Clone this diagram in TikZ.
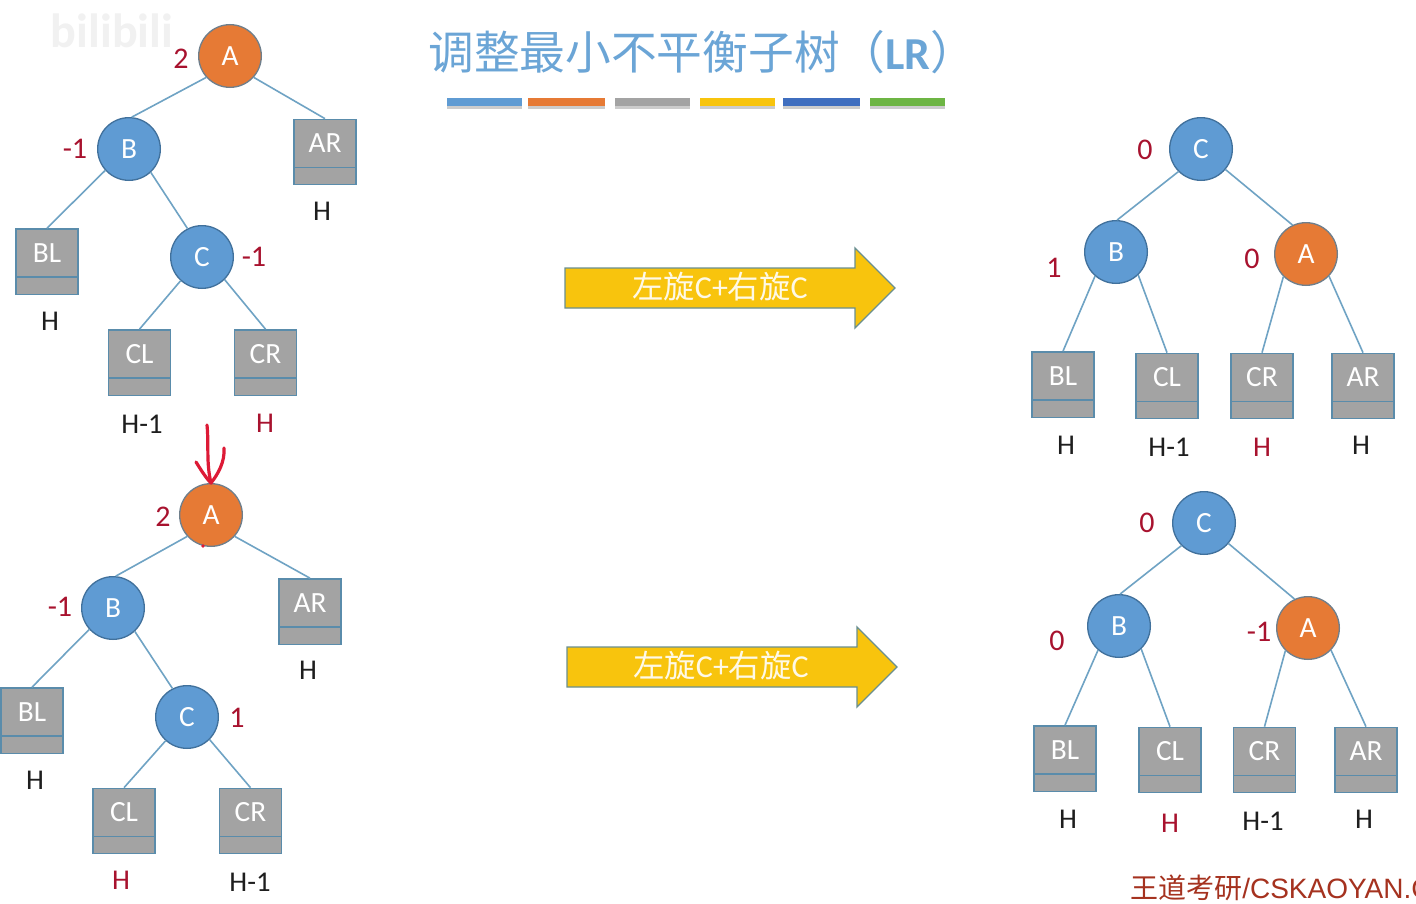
\documentclass[tikz,border=0pt]{standalone}
\usepackage{fontspec}
\setmainfont{Carlito}
\newfontfamily\cjk{Noto Sans CJK SC}
\newfontfamily\arialish{Liberation Sans}
\definecolor{nblue}{HTML}{5F9BD3}
\definecolor{nblueb}{HTML}{41719C}
\definecolor{norange}{HTML}{E67A35}
\definecolor{norangeb}{HTML}{6F7F8C}
\definecolor{bgray}{HTML}{A3A3A3}
\definecolor{bgrayb}{HTML}{5A8CAB}
\definecolor{edgec}{HTML}{6FA3C4}
\definecolor{lred}{HTML}{A8122E}
\definecolor{ltext}{HTML}{1E1E1E}
\definecolor{ayellow}{HTML}{F8C40D}
\definecolor{ayellowb}{HTML}{6A8F90}
\definecolor{ttl}{HTML}{6BA5D6}
\definecolor{penred}{HTML}{DD1A36}
\definecolor{wm}{HTML}{F1F1F1}
\definecolor{foot}{HTML}{A5321F}
\definecolor{bardark}{HTML}{3F6EBF}
\definecolor{bargreen}{HTML}{6DB544}
\tikzset{
  cnode/.style={circle,minimum size=47pt,inner sep=0pt,line width=1pt,text=white,font=\fontsize{22}{22}\selectfont},
  bluenode/.style={cnode,fill=nblue,draw=nblueb},
  orangenode/.style={cnode,fill=norange,draw=norangeb},
  treebox/.style={rectangle,fill=bgray,draw=bgrayb,line width=1pt,inner sep=0pt,minimum width=46.5pt,
    text=white,font=\fontsize{22}{22}\selectfont,text height=25pt,text depth=24pt,
    path picture={\draw[bgrayb,line width=1pt] ([yshift=12.8pt]path picture bounding box.south west) -- ([yshift=12.8pt]path picture bounding box.south east);}},
  bf/.style={inner sep=0pt,text=lred,font=\fontsize{22.5}{22}\selectfont},
  hblack/.style={inner sep=0pt,text=ltext,font=\fontsize{21.5}{21}\selectfont},
  hred/.style={hblack,text=lred},
  edge/.style={edgec,line width=1.2pt},
  arrowshape/.style={fill=ayellow,draw=ayellowb,line width=1pt},
  arrowtext/.style={inner sep=0pt,text=white!90!ayellow,font=\fontsize{24}{24}\selectfont},
  pen/.style={penred,line width=2.4pt,line cap=round,line join=round},
}
\newcommand{\arrowbody}[2]{%
  \draw[arrowshape] (#1,#2-20) -- (#1+290,#2-20) -- (#1+290,#2-40) -- (#1+330,#2) -- (#1+290,#2+40) -- (#1+290,#2+20) -- (#1,#2+20) -- cycle;}
\newcommand{\colourbar}[4]{%
  \fill[black!50,opacity=.4] (#1,#2+3) rectangle (#3,#2+10);
  \fill[#4] (#1,#2-1) rectangle (#3,#2+7);}
\begin{document}
\begin{tikzpicture}[x=0.75pt,y=-0.75pt]
\useasboundingbox (0,0) rectangle (1416,903);
\fill[white] (0,0) rectangle (1416,903);
\node[inner sep=0pt,text=wm,font=\fontsize{36}{36}\selectfont\bfseries] (wmark) at (112,31) {bilibili};

% title
\node[inner sep=0pt,anchor=west,text=ttl,font=\cjk\fontsize{34.3}{35}\selectfont] (title) at (428,52) {调整最小不平衡子树（{\rmfamily\bfseries LR}）};
\colourbar{447}{99}{522}{nblue}
\colourbar{528}{99}{605}{norange}
\colourbar{615}{99}{690}{bgray}
\colourbar{700}{99}{775}{ayellow}
\colourbar{783}{99}{860}{bardark}
\colourbar{870}{99}{945}{bargreen}

% top-left tree
\node[orangenode] (a1) at (230,56) {A};
\node[bluenode] (b1) at (129,149) {B};
\node[bluenode] (c1) at (202,257) {C};
\node[treebox] (ar1) at (325,152) {AR};
\node[treebox] (bl1) at (47,261.5) {BL};
\node[treebox] (cl1) at (139.5,362.5) {CL};
\node[treebox] (cr1) at (265.5,362.5) {CR};
\draw[edge] (a1.222) -- (b1.85);
\draw[edge] (a1.-42) -- (ar1.north);
\draw[edge] (b1.222) -- (bl1.north);
\draw[edge] (b1.-47) -- (c1.117);
\draw[edge] (c1.228) -- (cl1.north);
\draw[edge] (c1.-45) -- (cr1.north);
\node[bf] (f1a) at (181,59) {2};
\node[bf] (f1b) at (75,149) {-1};
\node[bf] (f1c) at (254,257) {-1};
\node[hblack] (h1ar) at (322,211) {H};
\node[hblack] (h1bl) at (50,321) {H};
\node[hblack] (h1cl) at (142,424) {H-1};
\node[hred] (h1cr) at (265,423) {H};

% bottom-left tree
\node[orangenode] (a2) at (211,515) {A};
\node[bluenode] (b2) at (113,608) {B};
\node[bluenode] (c2) at (187,717) {C};
\node[treebox] (ar2) at (310,611.5) {AR};
\node[treebox] (bl2) at (32,720.5) {BL};
\node[treebox] (cl2) at (124,821) {CL};
\node[treebox] (cr2) at (250.5,821) {CR};
\draw[edge] (a2.222) -- (b2.85);
\draw[edge] (a2.-42) -- (ar2.north);
\draw[edge] (b2.222) -- (bl2.north);
\draw[edge] (b2.-47) -- (c2.117);
\draw[edge] (c2.228) -- (cl2.north);
\draw[edge] (c2.-45) -- (cr2.north);
\node[bf] (f2a) at (163,517) {2};
\node[bf] (f2b) at (60,607) {-1};
\node[bf] (f2c) at (237,718) {1};
\node[hblack] (h2ar) at (308,670) {H};
\node[hblack] (h2bl) at (35,780) {H};
\node[hred] (h2cl) at (121,880) {H};
\node[hblack] (h2cr) at (250,882) {H-1};

% pen mark
\coordinate (pa) at (207,425);
\coordinate (pb) at (211,483);
\draw[pen] (pa) .. controls (209,445) and (206,462) .. (pb);
\draw[pen] (196,462) .. controls (201,470) and (206,478) .. (pb);
\draw[pen] (pb) .. controls (218,474) and (225,462) .. (224,448);
\fill[penred] (203,546) circle (1.8);

% arrows
\arrowbody{565}{288}
\node[arrowtext] (t1) at (720,287) {{\cjk\fontsize{23.5}{24}\selectfont 左旋}C+{\cjk\fontsize{23.5}{24}\selectfont 右旋}C};
\arrowbody{567}{667}
\node[arrowtext] (t2) at (721,666) {{\cjk\fontsize{23.5}{24}\selectfont 左旋}C+{\cjk\fontsize{23.5}{24}\selectfont 右旋}C};

% top-right tree
\node[bluenode] (c3) at (1201,149) {C};
\node[bluenode] (b3) at (1116,252) {B};
\node[orangenode] (a3) at (1306,254) {A};
\node[treebox] (bl3) at (1063,384.5) {BL};
\node[treebox] (cl3) at (1167,386) {CL};
\node[treebox] (cr3) at (1262,386) {CR};
\node[treebox] (ar3) at (1363,386) {AR};
\draw[edge] (c3.225) -- (b3.88);
\draw[edge] (c3.-40) -- (a3.115);
\draw[edge] (b3.229) -- (bl3.north);
\draw[edge] (b3.-46) -- (cl3.north);
\draw[edge] (a3.225) -- (cr3.north);
\draw[edge] (a3.-44) -- (ar3.north);
\node[bf] (f3c) at (1145,150) {0};
\node[bf] (f3b) at (1054,268) {1};
\node[bf] (f3a) at (1252,259) {0};
\node[hblack] (h3bl) at (1066,445) {H};
\node[hblack] (h3cl) at (1169,447) {H-1};
\node[hred] (h3cr) at (1262,447) {H};
\node[hblack] (h3ar) at (1361,445) {H};

% bottom-right tree
\node[bluenode] (c4) at (1204,523) {C};
\node[bluenode] (b4) at (1119,626) {B};
\node[orangenode] (a4) at (1308,628) {A};
\node[treebox] (bl4) at (1065,758.5) {BL};
\node[treebox] (cl4) at (1170,760) {CL};
\node[treebox] (cr4) at (1264.5,760) {CR};
\node[treebox] (ar4) at (1366,760) {AR};
\draw[edge] (c4.225) -- (b4.88);
\draw[edge] (c4.-40) -- (a4.115);
\draw[edge] (b4.229) -- (bl4.north);
\draw[edge] (b4.-46) -- (cl4.north);
\draw[edge] (a4.225) -- (cr4.north);
\draw[edge] (a4.-44) -- (ar4.north);
\node[bf] (f4c) at (1147,523) {0};
\node[bf] (f4b) at (1057,641) {0};
\node[bf] (f4a) at (1259,632) {-1};
\node[hblack] (h4bl) at (1068,819) {H};
\node[hred] (h4cl) at (1170,823) {H};
\node[hblack] (h4cr) at (1263,821) {H-1};
\node[hblack] (h4ar) at (1364,819) {H};

% footer
\node[inner sep=0pt,anchor=west,text=foot,font=\arialish\fontsize{21}{21}\selectfont] (footer) at (1130,888) {{\cjk 王道考研}/CSKAOYAN.C};
\end{tikzpicture}
\end{document}
